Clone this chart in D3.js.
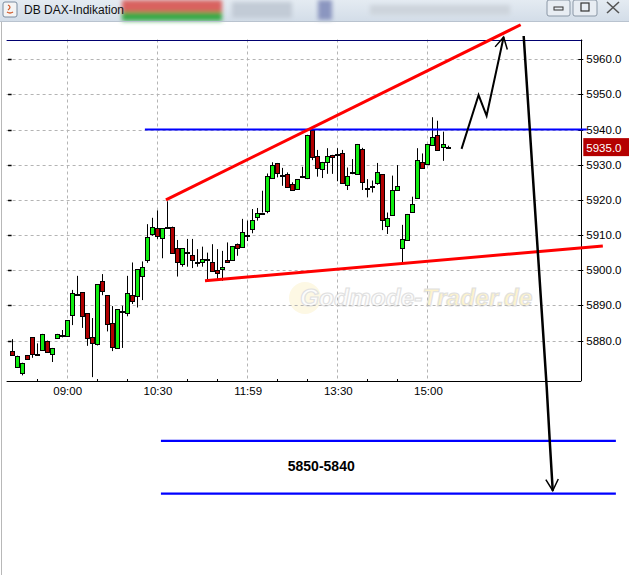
<!DOCTYPE html>
<html><head><meta charset="utf-8">
<script src="https://cdn.jsdelivr.net/npm/d3@7"></script>
<style>body{margin:0;background:#fff}svg{display:block}</style>
</head><body><svg id="c" width="629" height="575"></svg>
<script>
// ---- data ----
const times = ["08:05","08:10","08:15","08:20","08:25","08:30","08:35","08:40","08:45","08:50","08:55",
"09:00","09:05","09:10","09:15","09:20","09:25","09:30","09:35","09:40","09:45","09:50","09:55",
"10:00","10:05","10:10","10:15","10:20","10:25","10:30","10:35","10:40","10:45","10:50","10:55",
"11:00","11:05","11:10","11:15","11:20","11:25","11:30","11:35","11:40","11:45","11:50","11:55",
"12:00","12:05","12:10","12:15","12:20","12:25","12:30","12:35","12:40","12:45","12:50","12:55",
"13:00","13:05","13:10","13:15","13:20","13:25","13:30","13:35","13:40","13:45","13:50","13:55",
"14:00","14:05","14:10","14:15","14:20","14:25","14:30","14:35","14:40","14:45","14:50","14:55",
"15:00","15:05","15:10","15:15","15:20"];
const opens = [5877.1,5872.7,5870.8,5875.9,5881.0,5876.3,5877.4,5880.0,5876.2,5880.7,5881.7,
5881.2,5887.3,5893.2,5893.7,5887.8,5881.0,5878.8,5896.8,5892.9,5885.0,5877.9,5888.3,
5887.8,5892.9,5892.7,5898.3,5903.0,5910.3,5912.0,5909.1,5912.4,5912.4,5906.3,5901.7,
5905.3,5904.3,5902.4,5902.5,5903.3,5902.4,5900.0,5900.3,5903.0,5903.0,5907.4,5906.7,
5910.1,5911.7,5915.1,5916.4,5916.9,5926.2,5930.5,5927.1,5927.3,5924.5,5923.1,5926.7,
5926.2,5939.9,5932.6,5928.8,5930.8,5932.8,5933.0,5933.3,5924.2,5927.8,5927.3,5934.5,
5923.3,5924.0,5924.9,5927.3,5912.5,5915.7,5922.8,5906.3,5908.6,5916.4,5920.5,5930.9,
5930.2,5935.6,5938.4,5935.1,5935.0];
const highs = [5880.4,5875.7,5873.7,5875.9,5881.0,5879.2,5881.9,5880.0,5877.9,5881.9,5883.0,
5885.8,5894.4,5898.4,5893.7,5887.8,5886.4,5896.0,5898.9,5892.9,5889.8,5888.9,5889.9,
5898.4,5902.2,5900.3,5902.5,5913.1,5914.9,5917.0,5912.0,5919.6,5912.4,5908.6,5906.3,
5908.9,5908.9,5906.0,5906.7,5905.0,5907.4,5906.0,5905.5,5907.9,5906.9,5907.6,5914.6,
5914.1,5917.4,5917.7,5922.6,5927.5,5930.7,5930.5,5929.1,5927.8,5925.0,5925.9,5929.4,
5938.5,5940.6,5934.2,5930.8,5934.7,5932.8,5934.7,5934.2,5929.2,5931.6,5935.9,5934.8,
5925.9,5925.5,5930.5,5927.3,5916.4,5926.9,5929.9,5912.9,5916.0,5920.9,5934.7,5933.2,
5935.9,5943.5,5942.5,5939.4,5935.4];
const lows = [5875.8,5872.5,5870.1,5874.6,5875.1,5876.0,5877.2,5876.6,5873.9,5880.7,5880.9,
5881.1,5884.4,5893.1,5883.6,5878.5,5869.6,5878.6,5892.9,5882.6,5877.0,5877.8,5877.9,
5886.9,5890.4,5889.4,5891.5,5902.1,5909.8,5908.9,5903.4,5912.3,5905.1,5898.2,5901.0,
5901.0,5900.6,5901.0,5901.0,5897.0,5899.5,5897.1,5897.0,5902.3,5903.0,5904.1,5906.5,
5908.3,5910.5,5914.1,5916.4,5916.2,5926.2,5926.4,5924.0,5923.5,5922.6,5923.1,5926.2,
5925.9,5931.3,5926.6,5926.2,5927.4,5927.4,5925.3,5924.8,5922.8,5927.3,5927.3,5922.8,
5920.7,5922.1,5924.3,5911.4,5910.3,5915.7,5922.8,5901.8,5908.6,5916.4,5920.5,5929.1,
5930.2,5935.6,5934.0,5931.1,5934.6];
const closes = [5875.9,5875.7,5873.7,5874.8,5876.2,5876.3,5881.9,5876.8,5877.9,5881.9,5881.7,
5885.8,5893.5,5893.2,5886.8,5880.8,5879.4,5896.0,5893.9,5884.7,5878.2,5888.9,5888.3,
5893.5,5891.2,5900.3,5900.9,5909.4,5912.2,5909.6,5912.0,5912.4,5905.1,5902.3,5906.3,
5905.3,5903.0,5902.4,5903.3,5903.3,5899.8,5899.1,5900.9,5902.3,5906.9,5906.3,5911.0,
5910.1,5914.3,5916.3,5916.4,5926.9,5930.0,5927.6,5927.1,5923.7,5922.8,5925.9,5926.7,
5938.5,5932.3,5929.1,5930.8,5932.6,5932.3,5933.0,5924.8,5926.9,5927.8,5935.9,5925.2,
5923.3,5924.0,5927.9,5914.3,5914.8,5922.8,5923.9,5908.9,5916.0,5918.8,5931.3,5929.1,
5935.9,5938.0,5934.2,5935.9,5935.0];

const yTicks = [5880,5890,5900,5910,5920,5930,5940,5950,5960];
const xTickTimes = ["09:00","10:30","12:00","13:30","15:00"];
const xTickLabels = ["09:00","10:30","11:59","13:30","15:00"];
const minorTickTimes = ["08:30","09:30","10:00","11:00","11:30","12:30","13:00","14:00","14:30"];
const lastPrice = 5935.0;

// annotations (time, price)
const wedgeUpper = [["10:39",5920.0],["16:33",5969.8]];
const wedgeLower = [["11:18",5897.0],["17:55",5906.9]];
const resistance = [["10:18",5940],["17:39",5940]];
const targetZone = [5851.5,5836.5];
const targetZoneTimes = ["10:34","18:08"];
const targetLabel = "5850-5840";
const targetLabelPos = ["13:14",5842.9];
const zigzag = [["15:34",5934.5],["15:51",5949.8],["15:59",5943.9],["16:16",5966.3]];
const dropArrow = [["16:36",5966.6],["16:59",5866.6],["17:02",5851.5],["17:05",5837.3]];

// ---- scales ----
const toMin = s => { const [h,m] = s.split(":").map(Number); return h*60+m; };
const x = d3.scaleLinear().domain([480, 1053.5]).range([6.6, 581.3]);
const y = d3.scaleLinear().domain([5868.5, 5965.6]).range([381, 39.5]);
const X = t => x(toMin(t));

const svg = d3.select("#c");
svg.append("rect").attr("width",629).attr("height",575).attr("fill","#fff");

// ---- window title bar ----
const defs = svg.append("defs");
const g1 = defs.append("linearGradient").attr("id","tb").attr("x1",0).attr("x2",0).attr("y1",0).attr("y2",1);
g1.append("stop").attr("offset","0").attr("stop-color","#e4ebf2");
g1.append("stop").attr("offset","1").attr("stop-color","#d3dde8");
const blur = defs.append("filter").attr("id","bl").attr("x","-20%").attr("y","-50%").attr("width","140%").attr("height","200%");
blur.append("feGaussianBlur").attr("stdDeviation",2);
svg.append("rect").attr("x",0).attr("y",0).attr("width",629).attr("height",21).attr("fill","url(#tb)");
const tb = svg.append("g").attr("filter","url(#bl)");
tb.append("rect").attr("x",122).attr("y",0).attr("width",100).attr("height",12).attr("fill","#d9625e");
tb.append("rect").attr("x",122).attr("y",12).attr("width",100).attr("height",9).attr("fill","#3aa94a");
tb.append("rect").attr("x",232).attr("y",2).attr("width",60).attr("height",16).attr("fill","#c2cbd6");
tb.append("rect").attr("x",318).attr("y",0).attr("width",14).attr("height",20).attr("fill","#8b96c0");
tb.append("rect").attr("x",370).attr("y",5).attr("width",140).attr("height",10).attr("fill","#cdd4dc");
svg.append("text").attr("x",24).attr("y",14).attr("font-family","Liberation Sans, Arial, sans-serif")
  .attr("font-size",12).attr("fill","#111").text("DB DAX-Indikation");
svg.append("rect").attr("x",3).attr("y",2).attr("width",14).attr("height",15).attr("rx",2).attr("fill","#f4f4f4").attr("stroke","#7a8ca0");
svg.append("path").attr("d","M7 12 q3 2 6 0 M8 5 q4 2 0 5").attr("fill","none").attr("stroke","#d25a2a").attr("stroke-width",1.3);
[[547,23],[573,24]].forEach(([bx,bw]) => {
  svg.append("rect").attr("x",bx).attr("y",0).attr("width",bw).attr("height",16).attr("rx",2)
    .attr("fill","#e8edf3").attr("stroke","#8a97a6");
});
svg.append("rect").attr("x",554).attr("y",7).attr("width",9).attr("height",3).attr("fill","none").attr("stroke","#333");
svg.append("rect").attr("x",581).attr("y",3).attr("width",8).attr("height",8).attr("fill","none").attr("stroke","#333").attr("stroke-width",1.2);
svg.append("path").attr("d","M607 2 L619 13 M619 2 L607 13").attr("stroke","#555").attr("stroke-width",1.6);
svg.append("line").attr("x1",0).attr("x2",629).attr("y1",21.5).attr("y2",21.5).attr("stroke","#b9c3cf");
svg.append("line").attr("x1",1.5).attr("x2",1.5).attr("y1",22).attr("y2",575).attr("stroke","#b8b8b8");

// ---- watermark ----
const wm = svg.append("g");
wm.append("circle").attr("cx",305).attr("cy",298).attr("r",16).attr("fill","#fdf8e4");
const wt = wm.append("text").attr("x",300).attr("y",306).attr("font-family","Liberation Sans, Arial, sans-serif")
  .attr("font-size",24.5).attr("font-style","italic").attr("font-weight","bold").attr("stroke","#e0e0e0").attr("stroke-width",1.1);
wt.append("tspan").attr("fill","#fcfcfc").text("Godmode-");
wt.append("tspan").attr("fill","#fdf3cc").text("Trader.de");

// ---- grid ----
const pTop = y.range()[1], pBot = y.range()[0], pLeft = x.range()[0], pRight = x.range()[1];
svg.append("g").selectAll("line").data(yTicks).join("line")
  .attr("x1",pLeft).attr("x2",pRight).attr("y1",d=>Math.round(y(d))+0.5).attr("y2",d=>Math.round(y(d))+0.5)
  .attr("stroke","#b4b4b4").attr("stroke-dasharray","3,3");
svg.append("g").selectAll("line").data(xTickTimes).join("line")
  .attr("x1",d=>Math.round(X(d))+0.5).attr("x2",d=>Math.round(X(d))+0.5).attr("y1",pTop).attr("y2",pBot)
  .attr("stroke","#b4b4b4").attr("stroke-dasharray","3,3");

// ---- axes ----
svg.append("line").attr("x1",pLeft).attr("x2",pRight+1).attr("y1",Math.round(pTop)+0.5).attr("y2",Math.round(pTop)+0.5).attr("stroke","#000070").attr("stroke-width",1.2);
svg.append("line").attr("x1",pLeft).attr("x2",pRight).attr("y1",Math.round(pBot)+0.5).attr("y2",Math.round(pBot)+0.5).attr("stroke","#000");
svg.append("line").attr("x1",Math.round(pRight)+0.5).attr("x2",Math.round(pRight)+0.5).attr("y1",pTop).attr("y2",pBot).attr("stroke","#000");
const ry = svg.append("g");
ry.selectAll("line").data(yTicks).join("line")
  .attr("x1",pRight-3).attr("x2",pRight+2).attr("y1",d=>Math.round(y(d))+0.5).attr("y2",d=>Math.round(y(d))+0.5).attr("stroke","#000");
ry.selectAll("text").data(yTicks).join("text")
  .attr("x",pRight+5).attr("y",d=>y(d)+4).attr("font-family","Liberation Sans, Arial, sans-serif").attr("font-size",11.5)
  .attr("fill","#000").text(d=>d3.format(".1f")(d));
svg.append("g").selectAll("line").data(yTicks).join("line")
  .attr("x1",pLeft+1.5).attr("x2",pLeft+5).attr("y1",d=>Math.round(y(d))+0.5).attr("y2",d=>Math.round(y(d))+0.5).attr("stroke","#000").attr("stroke-width",1.5);
svg.append("g").selectAll("text").data(xTickTimes).join("text")
  .attr("x",d=>X(d)+1).attr("y",pBot+14).attr("text-anchor","middle").attr("font-family","Liberation Sans, Arial, sans-serif").attr("font-size",11.5)
  .text((d,i)=>xTickLabels[i]);
svg.append("g").selectAll("line").data(minorTickTimes).join("line")
  .attr("x1",d=>Math.round(X(d))+0.5).attr("x2",d=>Math.round(X(d))+0.5).attr("y1",pBot-2).attr("y2",pBot).attr("stroke","#000");

// ---- candles ----
const cg = svg.append("g");
times.forEach((t,i) => {
  const cx = Math.round(X(t)) + 0.5;
  const o = opens[i], c = closes[i];
  cg.append("line").attr("x1",cx).attr("x2",cx).attr("y1",y(highs[i])).attr("y2",y(lows[i])).attr("stroke","#000");
  const yt = y(Math.max(o,c)), yb = y(Math.min(o,c));
  const fill = c > o ? "#10ee10" : (c < o ? "#b00000" : "#000");
  cg.append("rect").attr("x",cx-2).attr("y",Math.round(yt)+0.5).attr("width",4).attr("height",Math.max(1,Math.round(yb-yt)))
    .attr("fill",fill).attr("stroke","#000");
});

// ---- annotations ----
const line = d3.line().x(d=>X(d[0])).y(d=>y(d[1]));
svg.append("path").attr("d",line(resistance)).attr("stroke","#0000ff").attr("stroke-width",2).attr("fill","none");
targetZone.forEach(v => {
  svg.append("line").attr("x1",X(targetZoneTimes[0])).attr("x2",X(targetZoneTimes[1])).attr("y1",y(v)).attr("y2",y(v))
    .attr("stroke","#0000ff").attr("stroke-width",2.2);
});
svg.append("text").attr("x",X(targetLabelPos[0])).attr("y",y(targetLabelPos[1])).attr("text-anchor","middle")
  .attr("font-family","Liberation Sans, Arial, sans-serif").attr("font-weight","bold").attr("font-size",14).text(targetLabel);
svg.append("path").attr("d",line(wedgeUpper)).attr("stroke","#ff0000").attr("stroke-width",3).attr("fill","none");
svg.append("path").attr("d",line(wedgeLower)).attr("stroke","#ff0000").attr("stroke-width",3).attr("fill","none");
function arrowHead(pts){
  const a = pts[pts.length-2], b = pts[pts.length-1];
  const ax = X(a[0]), ay = y(a[1]), bx = X(b[0]), by = y(b[1]);
  const ang = Math.atan2(by-ay, bx-ax);
  const L = 13, s = 0.5;
  return `M${bx-L*Math.cos(ang-s)},${by-L*Math.sin(ang-s)} L${bx},${by} L${bx-L*Math.cos(ang+s)},${by-L*Math.sin(ang+s)}`;
}
svg.append("path").attr("d",line(zigzag)).attr("stroke","#000").attr("stroke-width",2).attr("fill","none");
svg.append("path").attr("d",arrowHead(zigzag)).attr("stroke","#000").attr("stroke-width",1.5).attr("fill","none");
svg.append("path").attr("d",d3.line().x(d=>X(d[0])).y(d=>y(d[1])).curve(d3.curveMonotoneY)(dropArrow)).attr("stroke","#000").attr("stroke-width",2.5).attr("fill","none");
svg.append("path").attr("d",arrowHead(dropArrow)).attr("stroke","#000").attr("stroke-width",1.5).attr("fill","none");

// ---- last price tag ----
svg.append("rect").attr("x",pRight+2).attr("y",y(lastPrice)-9).attr("width",629-pRight-2).attr("height",18).attr("fill","#b40000");
svg.append("text").attr("x",pRight+5).attr("y",y(lastPrice)+4.5).attr("font-family","Liberation Sans, Arial, sans-serif").attr("font-size",11.5)
  .attr("fill","#fff").text(d3.format(".1f")(lastPrice));
</script></body></html>
